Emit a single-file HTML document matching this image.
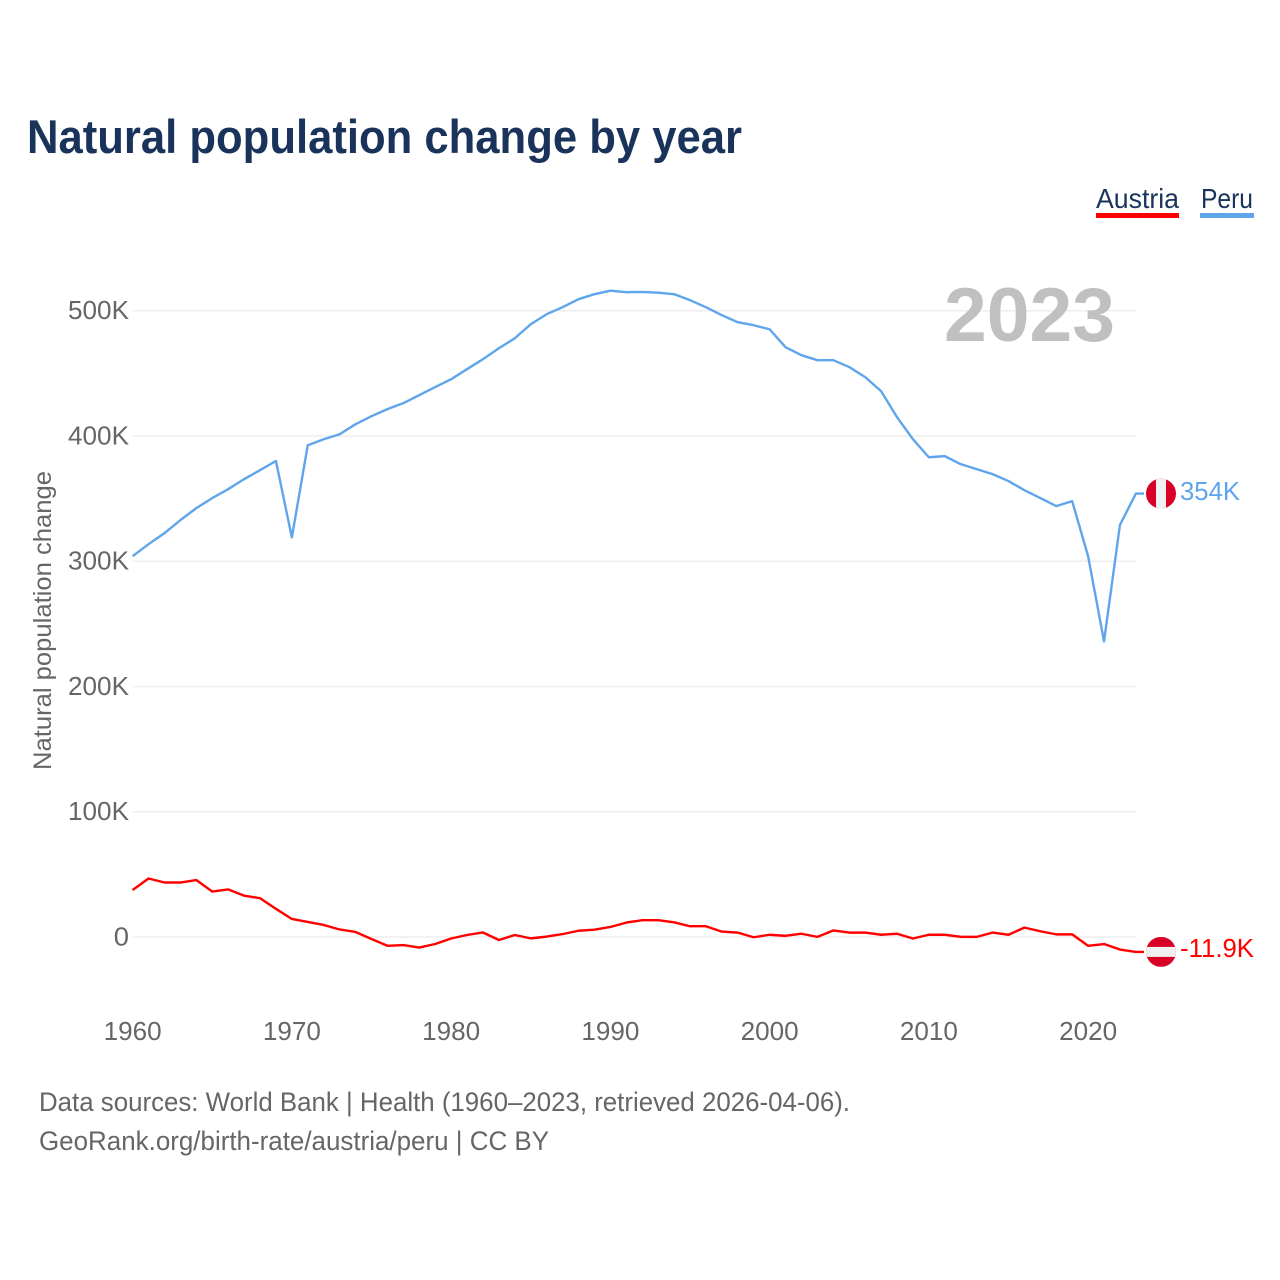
<!DOCTYPE html>
<html>
<head>
<meta charset="utf-8">
<title>Natural population change by year</title>
<style>
html,body{margin:0;padding:0;background:#fff;}
svg{display:block;}
text{font-family:"Liberation Sans",sans-serif;}
</style>
</head>
<body>
<svg id="chart" xmlns="http://www.w3.org/2000/svg" width="1280" height="1280" viewBox="0 0 1280 1280">
  <rect x="0" y="0" width="1280" height="1280" fill="#ffffff"/>
  <text x="27" y="153" font-size="47" font-weight="700" fill="#19335a" textLength="715" lengthAdjust="spacingAndGlyphs">Natural population change by year</text>

  <g>
    <text x="1096" y="208" font-size="28" fill="#19335a" textLength="83" lengthAdjust="spacingAndGlyphs">Austria</text>
    <rect x="1096" y="213" width="83" height="5" fill="#ff0000"/>
  </g>
  <g>
    <text x="1201" y="208" font-size="28" fill="#19335a" textLength="52" lengthAdjust="spacingAndGlyphs">Peru</text>
    <rect x="1200" y="213" width="54" height="5" fill="#5fa5ec"/>
  </g>

  <g id="grid"></g>
  <g id="yticks"></g>
  <g id="xticks"></g>

  <text transform="translate(51,770) rotate(-90)" font-size="25" fill="#666666" textLength="299" lengthAdjust="spacingAndGlyphs">Natural population change</text>
  <text x="944" y="341" font-size="76" font-weight="700" fill="#c0c0c0" textLength="171" lengthAdjust="spacingAndGlyphs">2023</text>

  <polyline id="line-peru" fill="none" stroke="#5fa5ec" stroke-width="2.4" stroke-linejoin="round"/>
  <polyline id="line-austria" fill="none" stroke="#ff0000" stroke-width="2.4" stroke-linejoin="round"/>

  <defs>
    <clipPath id="clip-peru"><circle id="clip-peru-circle" r="15"/></clipPath>
    <clipPath id="clip-austria"><circle id="clip-austria-circle" r="15"/></clipPath>
  </defs>
  <g id="flag-peru"></g>
  <g id="flag-austria"></g>
  <text id="label-peru" font-size="26" fill="#5fa5ec" textLength="60" lengthAdjust="spacingAndGlyphs"></text>
  <text id="label-austria" font-size="26" fill="#ff0000" textLength="74" lengthAdjust="spacingAndGlyphs"></text>

  <text x="39" y="1111" font-size="27" fill="#666666" textLength="811" lengthAdjust="spacingAndGlyphs">Data sources: World Bank | Health (1960–2023, retrieved 2026-04-06).</text>
  <text x="39" y="1150" font-size="27" fill="#666666" textLength="510" lengthAdjust="spacingAndGlyphs">GeoRank.org/birth-rate/austria/peru | CC BY</text>
</svg>
<script>
const startYear = 1960;
const yTickValues = [0, 100, 200, 300, 400, 500];
const xTickYears = [1960, 1970, 1980, 1990, 2000, 2010, 2020];
const peruValues = [
  304, 313.6, 322.4, 332.8, 342.4, 350.4, 357.5, 365.5, 372.7, 380,
  319, 392.6, 397.4, 401.4, 409.4, 415.8, 421.4, 426.2, 432.6, 439,
  445.3, 453.3, 461.3, 470, 478, 489.2, 497.2, 502.8, 509.2, 513.2,
  516, 514.8, 515, 514.4, 513.2, 508.4, 502.8, 496.4, 490.8, 488.4,
  485.2, 470.9, 464.5, 460.5, 460.5, 455, 447, 435.8, 415, 397.4,
  383, 383.9, 377.5, 373.5, 369.5, 364, 356.7, 350.4, 344, 348,
  304, 236, 329, 354
];
const austriaValues = [
  37.5, 46.7, 43.5, 43.5, 45.5, 36.3, 38, 33, 31, 22.5,
  14.4, 12, 9.6, 6, 4, -1.6, -7, -6.4, -8.4, -5.6,
  -1.2, 1.6, 3.6, -2.4, 1.6, -1.1, 0.3, 2.3, 5, 5.8,
  8, 11.5, 13.4, 13.4, 11.7, 8.6, 8.6, 4.3, 3.5, -0.2,
  1.8, 0.9, 2.6, 0.1, 5.2, 3.5, 3.5, 1.8, 2.6, -1.2,
  1.8, 1.8, 0.1, 0.1, 3.5, 1.8, 7.5, 4.6, 2.1, 2.1,
  -7, -5.6, -10, -11.9
];

const SVGNS = 'http://www.w3.org/2000/svg';
function xScale(year) { return 132.6 + (year - 1960) * 15.925; }
function yScale(v) { return 937 - v * 1.2526; }
function make(tag, attrs, parent) {
  const el = document.createElementNS(SVGNS, tag);
  for (const k in attrs) el.setAttribute(k, attrs[k]);
  parent.appendChild(el);
  return el;
}
function fmtK(v) { return (Number.isInteger(v) ? v : v.toFixed(1)) + 'K'; }

const grid = document.getElementById('grid');
const yticks = document.getElementById('yticks');
yTickValues.forEach(function (v) {
  const line = make('line', { x1: 133, x2: 1136, y1: yScale(v), y2: yScale(v), stroke: '#eeeeee', 'stroke-width': 1.5 }, grid);
  
  
  const label = v === 0 ? '0' : v + 'K';
  const t = make('text', { x: 129, y: yScale(v) + 8.5, 'text-anchor': 'end', 'font-size': 26, fill: '#666666', textLength: label.length * 15.25, lengthAdjust: 'spacingAndGlyphs' }, yticks);
  t.textContent = label;
  
  
});

const xticks = document.getElementById('xticks');
xTickYears.forEach(function (year) {
  const t = make('text', { x: xScale(year), y: 1040, 'text-anchor': 'middle', 'font-size': 26, fill: '#666666', textLength: 58, lengthAdjust: 'spacingAndGlyphs' }, xticks);
  t.textContent = String(year);
  
  
});

function drawSeries(name, values, labelOffset, flagDraw) {
  const pts = values.map(function (v, i) { return xScale(startYear + i).toFixed(2) + ',' + yScale(v).toFixed(2); });
  const lastY = yScale(values[values.length - 1]);
  pts.push('1144,' + lastY.toFixed(2));
  document.getElementById('line-' + name).setAttribute('points', pts.join(' '));
  const flagCy = lastY;
  const c = document.getElementById('clip-' + name + '-circle');
  c.setAttribute('cx', 1161);
  c.setAttribute('cy', flagCy);
  flagDraw(document.getElementById('flag-' + name), flagCy, 'url(#clip-' + name + ')');
  const lab = document.getElementById('label-' + name);
  lab.setAttribute('x', 1180);
  lab.setAttribute('y', flagCy + labelOffset);
  lab.textContent = fmtK(values[values.length - 1]);
}

drawSeries('peru', peruValues, 6.5, function (g, cy, clip) {
  const bg = make('rect', { x: 1146, y: cy - 15, width: 30, height: 30, fill: '#d80027', 'clip-path': clip }, g);
  
  
  const mid = make('rect', { x: 1156, y: cy - 15, width: 10, height: 30, fill: '#f0f0f0', 'clip-path': clip }, g);
  
  
});
drawSeries('austria', austriaValues, 5, function (g, cy, clip) {
  const bg = make('rect', { x: 1146, y: cy - 15, width: 30, height: 30, fill: '#d80027', 'clip-path': clip }, g);
  
  
  const mid = make('rect', { x: 1146, y: cy - 5, width: 30, height: 10, fill: '#f0f0f0', 'clip-path': clip }, g);
  
  
});
</script>
</body>
</html>
